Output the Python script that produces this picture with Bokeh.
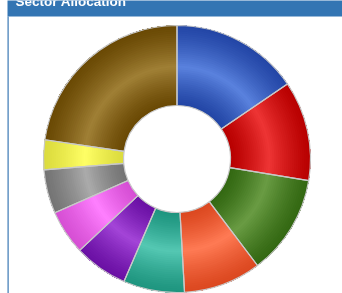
import math
from bokeh.plotting import figure
from bokeh.models import Range1d
from bokeh.core.properties import value
from bokeh.embed import file_html
from bokeh.resources import INLINE

# ---- data ----
title = "Sector Allocation"
sectors = ["Technology", "Financials", "Health Care", "Industrials", "Consumer Staples",
           "Utilities", "Communication", "Materials", "Energy", "Consumer Discretionary"]
weights = [15.5, 12.1, 12.1, 9.4, 7.4, 6.5, 5.4, 5.3, 3.6, 22.7]
light_colors = ["#5a82de", "#ee3535", "#6a9c44", "#ff7b55", "#55c8b3",
                "#a445d8", "#ff80ff", "#ababab", "#ffff66", "#a08036"]
dark_colors = ["#2346a6", "#b80000", "#336812", "#dc4820", "#1e957f",
               "#6a10a4", "#d64fd4", "#747474", "#dcdc3e", "#6a4904"]

W, H = 342, 293
p = figure(width=W, height=H, output_backend="svg", toolbar_location=None,
           x_range=Range1d(0, W), y_range=Range1d(0, H),
           x_axis_type=None, y_axis_type=None, min_border=0,
           outline_line_color=None, background_fill_color="white",
           border_fill_color="white")
p.grid.visible = False
p.styles = {"position": "fixed", "top": "0px", "left": "0px"}

cx, cy = 176.5, H - 158.5
r_in, r_out = 53.5, 133.5
r_mid = 92.0


def hex2rgb(h):
    h = h.lstrip("#")
    return tuple(int(h[i:i + 2], 16) for i in (0, 2, 4))


def mix(a, b, t):
    ra, rb = hex2rgb(a), hex2rgb(b)
    return "#%02x%02x%02x" % tuple(int(round(x + (y - x) * t)) for x, y in zip(ra, rb))


total = sum(weights)
cum = 0.0
starts, ends = [], []
for w in weights:
    starts.append(math.pi / 2 - 2 * math.pi * cum / total)
    cum += w
    ends.append(math.pi / 2 - 2 * math.pi * cum / total)

# radial gradient: stacked annuli, each reaching the outer edge, inner ones first
n_bands = 40
band_w = (r_out - r_in) / n_bands
xs, ys, ir, sa, ea, cols = [], [], [], [], [], []
for k in range(n_bands):
    a = r_in + k * band_w
    rm = a + band_w / 2
    half = (r_mid - r_in) if rm < r_mid else (r_out - r_mid)
    t = max(0.0, 1 - abs(rm - r_mid) / half)
    t = t ** 1.3
    for i in range(len(weights)):
        xs.append(cx); ys.append(cy)
        ir.append(a)
        sa.append(starts[i]); ea.append(ends[i])
        cols.append(mix(dark_colors[i], light_colors[i], t))

p.annular_wedge(x=xs, y=ys, inner_radius=ir, outer_radius=r_out,
                start_angle=sa, end_angle=ea, direction="clock",
                fill_color=cols, line_color=None)

# slice outlines
p.annular_wedge(x=[cx] * len(weights), y=[cy] * len(weights),
                inner_radius=r_in, outer_radius=r_out,
                start_angle=starts, end_angle=ends, direction="clock",
                fill_color=None, line_color="#c8c8c8", line_width=1.2)

# header bar and left border
p.quad(left=[7], right=[W + 5], top=[H + 5], bottom=[H - 16],
       fill_color="#3375b3", line_color=None)
p.quad(left=[7], right=[8.2], top=[H - 16], bottom=[-5],
       fill_color="#3a78b4", line_color=None)
p.text(x=[15], y=[H - 0.5], text=[title], text_color="white",
       text_font=value("Liberation Sans"), text_font_size="13.5px",
       text_font_style="bold", text_baseline="alphabetic", text_align="left")

open("out.html", "w").write(file_html(p, INLINE))
